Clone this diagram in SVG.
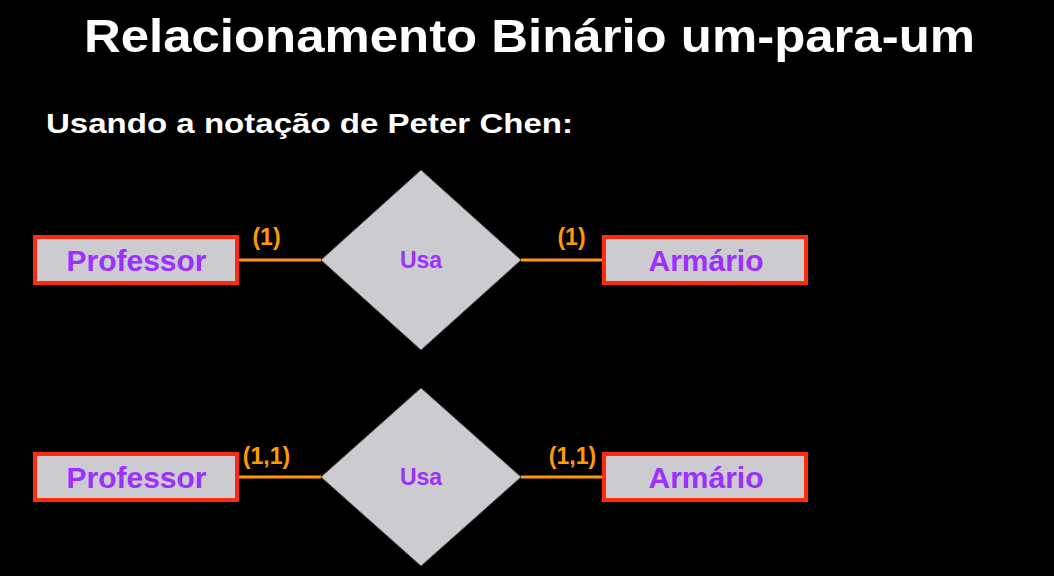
<svg xmlns="http://www.w3.org/2000/svg" width="1054" height="576" viewBox="0 0 1054 576">
<style>
.ent{fill:#cccbcf;stroke:#ff2a10;stroke-width:4}
.rel{fill:#cccbcf;stroke:#555;stroke-width:1}
.lbl{font-family:"Liberation Sans",Arial,sans-serif;font-weight:bold;fill:#9b30ff;text-anchor:middle}
.card{font-family:"Liberation Sans",Arial,sans-serif;font-weight:bold;fill:#ff9a00;font-size:23px;text-anchor:middle}
.ln{stroke:#ff9a00;stroke-width:3;fill:none}
.hd{font-family:"Liberation Sans",Arial,sans-serif;font-weight:bold;fill:#ffffff}
</style>
<rect x="0" y="0" width="1054" height="576" fill="#000"/>
<text class="hd" x="84" y="52" font-size="46" textLength="891" lengthAdjust="spacingAndGlyphs">Relacionamento Binário um-para-um</text>
<text class="hd" x="46" y="133" font-size="27" textLength="527" lengthAdjust="spacingAndGlyphs">Usando a notação de Peter Chen:</text>
<g id="connectors">
<line class="ln" x1="238" y1="260" x2="321" y2="260"/>
<line class="ln" x1="521" y1="260" x2="602" y2="260"/>
<line class="ln" x1="238" y1="477" x2="321" y2="477"/>
<line class="ln" x1="521" y1="477" x2="602" y2="477"/>
<text class="card" x="266.5" y="245">(1)</text>
<text class="card" x="571.5" y="245">(1)</text>
<text class="card" x="266.5" y="464">(1,1)</text>
<text class="card" x="572.5" y="464">(1,1)</text>
</g>
<g id="professor1">
<rect class="ent" x="35" y="237" width="202" height="46"/>
<text class="lbl" x="136.5" y="271" font-size="30">Professor</text>
</g>
<g id="usa1">
<polygon class="rel" points="421,170 521,260 421,350 321,260"/>
<text class="lbl" x="421" y="268" font-size="23">Usa</text>
</g>
<g id="armario1">
<rect class="ent" x="604" y="237" width="202" height="46"/>
<text class="lbl" x="706" y="271" font-size="30">Armário</text>
</g>
<g id="professor2">
<rect class="ent" x="35" y="454" width="202" height="46"/>
<text class="lbl" x="136.5" y="488" font-size="30">Professor</text>
</g>
<g id="usa2">
<polygon class="rel" points="421,388 521,477 421,566 321,477"/>
<text class="lbl" x="421" y="485" font-size="23">Usa</text>
</g>
<g id="armario2">
<rect class="ent" x="604" y="454" width="202" height="46"/>
<text class="lbl" x="706" y="488" font-size="30">Armário</text>
</g>
</svg>
